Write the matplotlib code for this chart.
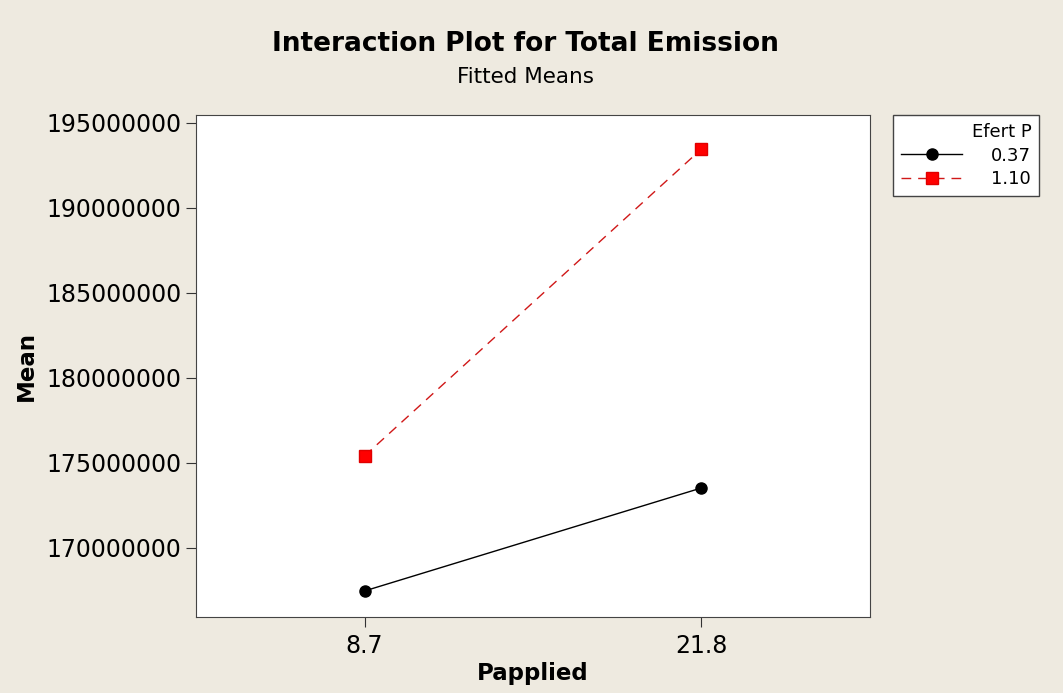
import matplotlib.pyplot as plt
from matplotlib.lines import Line2D

papplied = ["8.7", "21.8"]
efert_levels = ["0.37", "1.10"]
mean_037 = [167470000, 173530000]
mean_110 = [175410000, 193470000]

BG = "#eeeae0"
RED_LINE = "#d01818"

fig = plt.figure(figsize=(10.63, 6.93), dpi=100, facecolor=BG)
ax = fig.add_axes([0.1844, 0.1097, 0.634, 0.7244])

x = [1, 2]
ax.plot(x, mean_037, color="black", lw=1, marker="o", ms=8, label=efert_levels[0])
ax.plot(x, mean_110, color=RED_LINE, lw=1, ls=(0, (7, 5)), marker="s",
        ms=8, mfc="#ff0000", mec="#e00000", label=efert_levels[1])

ax.set_xlim(0.5, 2.5)
ax.set_ylim(165940000, 195470000)
ax.set_xticks(x)
ax.set_xticklabels(papplied)
ax.set_yticks(range(170000000, 195000001, 5000000))
ax.set_yticklabels([str(v) for v in range(170000000, 195000001, 5000000)])
ax.tick_params(labelsize=17, length=7, color="#333333")
ax.tick_params(axis="x", pad=5)
for s in ax.spines.values():
    s.set_color("#444444")

ax.set_xlabel("Papplied", fontsize=16.5, fontweight="bold", labelpad=3)
ax.set_ylabel("Mean", fontsize=16.5, fontweight="bold", labelpad=6)

fig.text(0.494, 0.936, "Interaction Plot for Total Emission",
         ha="center", va="center", fontsize=19, fontweight="bold")
fig.text(0.494, 0.889, "Fitted Means", ha="center", va="center", fontsize=15.5)

handles = [
    Line2D([], [], color="black", lw=1, marker="o", ms=8),
    Line2D([], [], color=RED_LINE, lw=1, ls=(0, (7, 5)), marker="s", ms=8,
           mfc="#ff0000", mec="#e00000"),
]
leg = fig.legend(handles, efert_levels, title="Efert P", loc="upper left",
                 bbox_to_anchor=(0.840, 0.834), borderaxespad=0,
                 fontsize=13, title_fontsize=13,
                 frameon=True, fancybox=False, edgecolor="#444444",
                 handlelength=3.4, alignment="right", labelspacing=0.3,
                 borderpad=0.45, handletextpad=1.6)
leg.get_frame().set_linewidth(1)
leg.get_frame().set_facecolor("white")
leg.get_frame().set_alpha(1)

fig.savefig("out.png", dpi=100, facecolor=BG)
